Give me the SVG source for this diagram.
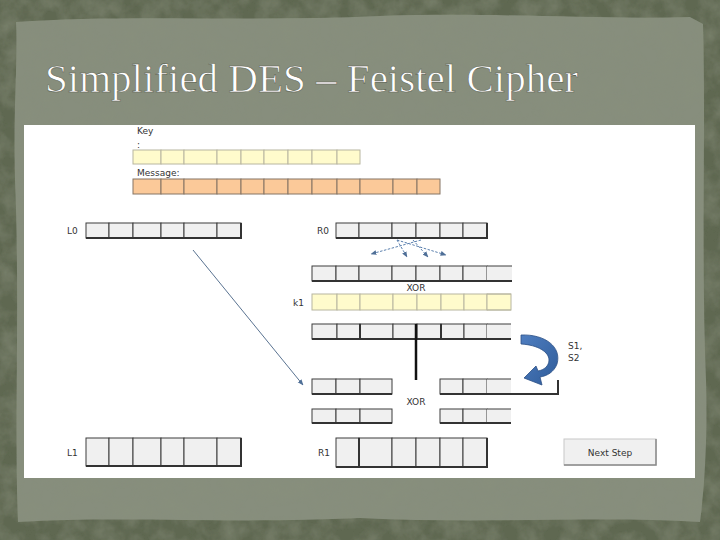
<svg xmlns="http://www.w3.org/2000/svg" width="720" height="540" viewBox="0 0 720 540">
<defs>
<filter id="tex" x="0" y="0" width="100%" height="100%">
<feTurbulence type="fractalNoise" baseFrequency="0.05" numOctaves="4" seed="3" result="n"/>
<feColorMatrix in="n" type="matrix" values="0 0 0 0 0.25  0 0 0 0 0.28  0 0 0 0 0.2  0 0 0 0.9 -0.3" result="c"/>
<feComposite in="c" in2="SourceGraphic" operator="in" result="d"/>
<feMerge><feMergeNode in="SourceGraphic"/><feMergeNode in="d"/></feMerge>
</filter>
<marker id="ah" viewBox="0 0 10 10" refX="9" refY="5" markerWidth="6" markerHeight="6" orient="auto">
<path d="M0,1 L10,5 L0,9 Z" fill="#4f6f97"/>
</marker>
<linearGradient id="bluearr" x1="0" y1="0" x2="1" y2="1">
<stop offset="0" stop-color="#4f7ec0"/>
<stop offset="1" stop-color="#2f5c9a"/>
</linearGradient>
</defs>
<style>
.c{fill:#f0f0f0;stroke:#3c3c3c;stroke-width:1}
.cb{fill:none;stroke:#333;stroke-width:2}
.k{fill:#fffbcc;stroke:#b8b6a0;stroke-width:1}
.m{fill:#fbc999;stroke:#857565;stroke-width:1}
.f{fill:#f0f0f0;stroke:none}
.e{fill:none;stroke:#3c3c3c;stroke-width:1}
.lbl{font-family:"DejaVu Sans","Liberation Sans",sans-serif;font-size:9px;fill:#333}
.dash{fill:none;stroke:#5a7fae;stroke-width:1;stroke-dasharray:2.5 1.5}
</style>

<!-- background -->
<rect x="0" y="0" width="720" height="540" fill="#5f6851" filter="url(#tex)"/>
<path d="M16,22 C120,14 250,22 380,16 C500,12 600,20 690,17 L703,24 C706,120 701,260 706,380 C708,450 703,500 700,522 C600,516 480,524 360,518 C240,524 120,516 18,522 C14,430 20,300 15,180 C13,110 18,60 16,22 Z" fill="#878e7d" filter="url(#tex)"/>

<!-- title -->
<g id="title">
<text x="45" y="92" font-family="'Liberation Serif','DejaVu Serif',serif" font-size="41" fill="#ffffff" stroke="#5b6150" stroke-width="0.6" textLength="533" lengthAdjust="spacingAndGlyphs">Simplified DES – Feistel Cipher</text>
</g>

<!-- white panel -->
<rect x="24" y="125" width="671" height="353" fill="#ffffff"/>

<g id="key">
<text class="lbl" x="137" y="134">Key</text>
<text class="lbl" x="137" y="148">:</text>
<rect class="k" x="133" y="150" width="28" height="14"/>
<rect class="k" x="161" y="150" width="23" height="14"/>
<rect class="k" x="184" y="150" width="33" height="14"/>
<rect class="k" x="217" y="150" width="24" height="14"/>
<rect class="k" x="241" y="150" width="23" height="14"/>
<rect class="k" x="264" y="150" width="24" height="14"/>
<rect class="k" x="288" y="150" width="24" height="14"/>
<rect class="k" x="312" y="150" width="25" height="14"/>
<rect class="k" x="337" y="150" width="23" height="14"/>
</g>

<g id="message">
<text class="lbl" x="137" y="176">Message:</text>
<rect class="m" x="133" y="179" width="28" height="15"/>
<rect class="m" x="161" y="179" width="23" height="15"/>
<rect class="m" x="184" y="179" width="33" height="15"/>
<rect class="m" x="217" y="179" width="24" height="15"/>
<rect class="m" x="241" y="179" width="23" height="15"/>
<rect class="m" x="264" y="179" width="24" height="15"/>
<rect class="m" x="288" y="179" width="24" height="15"/>
<rect class="m" x="312" y="179" width="25" height="15"/>
<rect class="m" x="337" y="179" width="23" height="15"/>
<rect class="m" x="360" y="179" width="33" height="15"/>
<rect class="m" x="393" y="179" width="24" height="15"/>
<rect class="m" x="417" y="179" width="23" height="15"/>
</g>

<g id="L0">
<text class="lbl" x="67" y="234">L0</text>
<rect class="c" x="86" y="223" width="23" height="15"/>
<rect class="c" x="109" y="223" width="24" height="15"/>
<rect class="c" x="133" y="223" width="28" height="15"/>
<rect class="c" x="161" y="223" width="23" height="15"/>
<rect class="c" x="184" y="223" width="33" height="15"/>
<rect class="c" x="217" y="223" width="24" height="15"/>
<path class="cb" d="M86,238 H241 V223"/>
</g>

<g id="R0">
<text class="lbl" x="317" y="234">R0</text>
<rect class="c" x="336" y="223" width="23" height="15"/>
<rect class="c" x="359" y="223" width="33" height="15"/>
<rect class="c" x="392" y="223" width="24" height="15"/>
<rect class="c" x="416" y="223" width="24" height="15"/>
<rect class="c" x="440" y="223" width="23" height="15"/>
<rect class="c" x="463" y="223" width="24" height="15"/>
<path class="cb" d="M336,238 H487 V223"/>
</g>

<g id="expanded">
<rect class="c" x="312" y="266" width="24" height="15"/>
<rect class="c" x="336" y="266" width="23" height="15"/>
<rect class="c" x="359" y="266" width="33" height="15"/>
<rect class="c" x="392" y="266" width="24" height="15"/>
<rect class="c" x="416" y="266" width="24" height="15"/>
<rect class="c" x="440" y="266" width="23" height="15"/>
<rect class="c" x="463" y="266" width="24" height="15"/>
<rect class="f" x="487" y="266" width="25" height="15"/>
<path class="e" d="M487,266 H512 M487,281 H512"/>
<path class="cb" d="M312,281 H512"/>
<text class="lbl" x="416" y="291" text-anchor="middle" font-size="8">XOR</text>
</g>

<g id="k1">
<text class="lbl" x="293" y="306">k1</text>
<rect class="k" x="312" y="294" width="25" height="16"/>
<rect class="k" x="337" y="294" width="23" height="16"/>
<rect class="k" x="360" y="294" width="33" height="16"/>
<rect class="k" x="393" y="294" width="24" height="16"/>
<rect class="k" x="417" y="294" width="24" height="16"/>
<rect class="k" x="441" y="294" width="23" height="16"/>
<rect class="k" x="464" y="294" width="23" height="16"/>
<rect class="k" x="487" y="294" width="24" height="16" stroke="none"/>
<path d="M487,294 H511 M487,310 H511" fill="none" stroke="#b8b6a0"/>
</g>

<g id="xor-result">
<rect class="c" x="312" y="324" width="25" height="15"/>
<rect class="c" x="337" y="324" width="23" height="15"/>
<rect class="c" x="360" y="324" width="33" height="15"/>
<rect class="c" x="393" y="324" width="24" height="15"/>
<rect class="c" x="417" y="324" width="24" height="15"/>
<rect class="c" x="441" y="324" width="23" height="15"/>
<rect class="c" x="464" y="324" width="23" height="15"/>
<rect class="f" x="487" y="324" width="24" height="15"/>
<path class="e" d="M487,324 H511 M487,339 H511"/>
<path class="cb" d="M312,339 H511 M360,324 V339 M441,324 V339"/>
</g>

<g id="sbox-out-left">
<rect class="c" x="312" y="379" width="24" height="15"/>
<rect class="c" x="336" y="379" width="24" height="15"/>
<rect class="c" x="360" y="379" width="32" height="15"/>
<path class="cb" d="M312,394 H392"/>
</g>

<g id="sbox-out-right">
<rect class="c" x="440" y="379" width="23" height="15"/>
<rect class="c" x="463" y="379" width="24" height="15"/>
<rect class="f" x="487" y="379" width="24" height="15"/>
<path class="e" d="M487,379 H511"/>
<path class="cb" d="M440,394 H558 V380"/>
</g>

<g id="xor2-label">
<text class="lbl" x="416" y="405" text-anchor="middle" font-size="8">XOR</text>
</g>

<g id="row2-left">
<rect class="c" x="312" y="409" width="24" height="14"/>
<rect class="c" x="336" y="409" width="24" height="14"/>
<rect class="c" x="360" y="409" width="32" height="14"/>
<path class="cb" d="M312,423 H392"/>
</g>

<g id="row2-right">
<rect class="c" x="440" y="409" width="23" height="14"/>
<rect class="c" x="463" y="409" width="24" height="14"/>
<rect class="f" x="487" y="409" width="24" height="14"/>
<path class="e" d="M487,409 H511 M487,423 H511"/>
<path class="cb" d="M440,423 H511"/>
</g>

<g id="L1">
<text class="lbl" x="67" y="456">L1</text>
<rect class="c" x="86" y="438" width="23" height="28"/>
<rect class="c" x="109" y="438" width="24" height="28"/>
<rect class="c" x="133" y="438" width="28" height="28"/>
<rect class="c" x="161" y="438" width="23" height="28"/>
<rect class="c" x="184" y="438" width="33" height="28"/>
<rect class="c" x="217" y="438" width="24" height="28"/>
<path class="cb" d="M86,466 H241 V438"/>
</g>

<g id="R1">
<text class="lbl" x="318" y="456">R1</text>
<rect class="c" x="336" y="438" width="23" height="29"/>
<rect class="c" x="359" y="438" width="33" height="29"/>
<rect class="c" x="392" y="438" width="24" height="29"/>
<rect class="c" x="416" y="438" width="24" height="29"/>
<rect class="c" x="440" y="438" width="23" height="29"/>
<rect class="c" x="463" y="438" width="24" height="29"/>
<path class="cb" d="M336,467 H487 V438 M359,438 V467"/>
</g>

<g id="sbox-labels">
<text class="lbl" x="568" y="349">S1,</text>
<text class="lbl" x="568" y="361">S2</text>
</g>

<g id="next-step">
<rect x="564" y="439" width="92" height="26" fill="#f0f0f0" stroke="#c8c8c8"/>
<path d="M564,465 H656 V439" fill="none" stroke="#8a8a8a" stroke-width="1.5"/>
<text class="lbl" x="610" y="456" text-anchor="middle" font-size="10">Next Step</text>
</g>

<g id="connectors">
<line x1="193" y1="250" x2="303" y2="385" stroke="#5a7391" stroke-width="1" marker-end="url(#ah)"/>
<line class="dash" x1="397" y1="240" x2="407" y2="257" marker-end="url(#ah)"/>
<line class="dash" x1="397" y1="240" x2="446" y2="255" marker-end="url(#ah)"/>
<line class="dash" x1="421" y1="240" x2="371" y2="254" marker-end="url(#ah)"/>
<line class="dash" x1="413" y1="240" x2="428" y2="257" marker-end="url(#ah)"/>
<line x1="416" y1="324" x2="416" y2="380" stroke="#111" stroke-width="2.5"/>
<path d="M521,335 C545,334 562,347 557,364 C554,372 547,376 540,377 L542,385 L524,378 L536,366 L538,371 C544,370 549,366 549,360 C549,352 538,345 521,344 Z" fill="url(#bluearr)" stroke="#2b4f85" stroke-width="0.8"/>
</g>
</svg>
